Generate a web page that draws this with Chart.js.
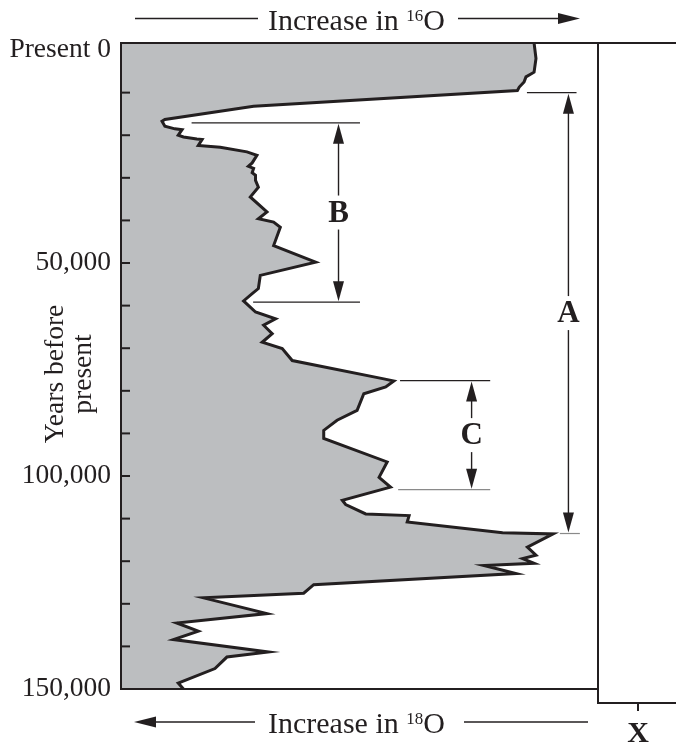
<!DOCTYPE html>
<html>
<head>
<meta charset="utf-8">
<script src="https://cdn.jsdelivr.net/npm/chart.js@4.4.1/dist/chart.umd.min.js"></script>
<style>
  html, body { margin: 0; padding: 0; background: #fff; }
  #wrap { width: 676px; height: 747px; }
</style>
</head>
<body>
<div id="wrap"><canvas id="chart" width="676" height="747"></canvas></div>
<script>
// Oxygen isotope record, 0 - 150,000 years before present.
// x is a relative isotope index: 0 = left frame (more 18O), 100 = right frame (more 16O).

const YEARS = [
  -1650, 2000, 5200, 6300, 7500, 8700, 9500, 13200, 16300, 16700,
  17900, 18500, 18700, 20000, 20400, 20900, 21000, 22400, 22800, 23900,
  24700, 26500, 27300, 27800, 28800, 29400, 30600, 32200, 34500, 38000,
  39600, 40400, 41600, 45900, 49800, 52900, 56000, 57200, 58900, 61500,
  63100, 64600, 66600, 68600, 70100, 72900, 77200, 77700, 79100, 80700,
  84600, 86900, 89300, 91200, 96700, 100300, 102600, 105700, 106700, 108900,
  109300, 110800, 113300, 113600, 116700, 118600, 119400, 120500, 121000, 122900,
  125500, 127500, 128600, 132300, 134500, 136400, 138400, 141300, 142500, 145200,
  148600, 150000
];
const O16_INDEX = [
  86.6, 87.0, 86.6, 84.9, 84.5, 83.5, 83.1, 27.8, 9.2, 8.6,
  9.2, 11.3, 12.8, 12.0, 13.1, 15.9, 17.0, 16.2, 20.8, 26.4,
  28.5, 27.5, 26.7, 27.8, 27.5, 28.2, 28.2, 28.8, 27.1, 30.6,
  28.8, 32.0, 33.4, 32.0, 40.8, 29.2, 28.8, 27.5, 25.7, 28.2,
  32.4, 29.9, 31.7, 29.6, 33.8, 35.9, 55.1, 57.2, 55.5, 50.9,
  49.5, 45.3, 42.5, 42.5, 55.8, 54.1, 56.5, 46.4, 47.1, 51.3,
  60.4, 60.0, 80.0, 90.6, 85.2, 87.0, 84.2, 86.6, 76.1, 82.8,
  40.4, 38.3, 17.3, 30.6, 11.7, 16.2, 11.0, 30.9, 22.2, 19.7,
  12.0, 13.1
];

// y axis
const Y_MIN = -1650;   // the drawn frame starts a little above 0
const Y_MAX = 150000;
const Y_TICKS = [0, 10000, 20000, 30000, 40000, 50000, 60000, 70000,
  80000, 90000, 100000, 110000, 120000, 130000, 140000, 150000];
const Y_TICK_LABELS = ['Present 0', '', '', '', '', '50,000', '', '', '', '',
  '100,000', '', '', '', '', '150,000'];

// marked intervals (years)
const BRACKET_LABELS = ['A', 'B', 'C'];
const BRACKET_FROM = [10000, 17100, 77600];
const BRACKET_TO = [113500, 59200, 103200];

const INK = '#231f20';
const FILL = '#bcbec0';
const SERIF = '"Liberation Serif", "Times New Roman", serif';

// where each bracket sits, in isotope-index units
const BRACKET_LAYOUT = {
  A: { stem: 93.8, top: [85.1, 95.5], bottom: [92.0, 96.2], bottomColor: '#8a8a8a' },
  B: { stem: 45.6, top: [14.8, 50.1], bottom: [27.7, 50.1], bottomColor: INK },
  C: { stem: 73.5, top: [58.5, 77.4], bottom: [58.1, 77.4], bottomColor: '#8a8a8a' },
};

function line(ctx, x0, y0, x1, y1) {
  ctx.beginPath(); ctx.moveTo(x0, y0); ctx.lineTo(x1, y1); ctx.stroke();
}
function vHead(ctx, x, tip, dir) { // dir -1 points up, +1 points down
  ctx.beginPath();
  ctx.moveTo(x, tip);
  ctx.lineTo(x - 5.5, tip - dir * 20);
  ctx.lineTo(x + 5.5, tip - dir * 20);
  ctx.closePath(); ctx.fill();
}
function hHead(ctx, tip, y, dir) { // dir +1 points right, -1 left
  ctx.beginPath();
  ctx.moveTo(tip, y);
  ctx.lineTo(tip - dir * 22, y - 5.5);
  ctx.lineTo(tip - dir * 22, y + 5.5);
  ctx.closePath(); ctx.fill();
}
function isotopeText(ctx, x, baseline, mass) {
  ctx.textAlign = 'left';
  ctx.textBaseline = 'alphabetic';
  ctx.font = '30px ' + SERIF;
  ctx.fillText('Increase in ', x, baseline);
  let cx = x + ctx.measureText('Increase in ').width;
  ctx.font = '17px ' + SERIF;
  ctx.fillText(mass, cx, baseline - 9.5);
  cx += ctx.measureText(mass).width;
  ctx.font = '30px ' + SERIF;
  ctx.fillText('O', cx, baseline);
}

const framePlugin = {
  id: 'frame',
  afterDraw(chart) {
    const ctx = chart.ctx;
    const { left, right, top, bottom } = chart.chartArea;
    const xs = chart.scales.x, ys = chart.scales.y;
    const W = chart.width;
    ctx.save();
    ctx.strokeStyle = INK;
    ctx.fillStyle = INK;

    // frame
    ctx.lineWidth = 2;
    line(ctx, left, top, W, top);
    line(ctx, left, top - 1, left, bottom + 1);
    line(ctx, left - 1, bottom, right, bottom);
    line(ctx, right, top, right, bottom + 14);
    line(ctx, right - 1, bottom + 14, W, bottom + 14);
    line(ctx, 638, bottom + 14, 638, bottom + 22);

    // inward tick marks
    Y_TICKS.forEach(v => {
      if (v <= 0 || v >= Y_MAX) return;
      const y = ys.getPixelForValue(v);
      line(ctx, left, y, left + 9, y);
    });

    // brackets A, B, C
    BRACKET_LABELS.forEach((lab, i) => {
      const L = BRACKET_LAYOUT[lab];
      const x = xs.getPixelForValue(L.stem);
      const y0 = ys.getPixelForValue(BRACKET_FROM[i]);
      const y1 = ys.getPixelForValue(BRACKET_TO[i]);
      const mid = (y0 + y1) / 2;
      ctx.lineWidth = 1.2;
      ctx.strokeStyle = INK;
      line(ctx, xs.getPixelForValue(L.top[0]), y0, xs.getPixelForValue(L.top[1]), y0);
      ctx.strokeStyle = L.bottomColor;
      line(ctx, xs.getPixelForValue(L.bottom[0]), y1, xs.getPixelForValue(L.bottom[1]), y1);
      ctx.strokeStyle = INK;
      ctx.lineWidth = 1.4;
      line(ctx, x, y0 + 10, x, mid - 17);
      line(ctx, x, mid + 17, x, y1 - 10);
      vHead(ctx, x, y0 + 1, -1);
      vHead(ctx, x, y1 - 1, 1);
      ctx.font = 'bold 31px ' + SERIF;
      ctx.textAlign = 'center';
      ctx.textBaseline = 'middle';
      ctx.fillText(lab, x, mid + 1);
    });

    // isotope direction labels
    ctx.lineWidth = 1.5;
    line(ctx, 135, 18.5, 258, 18.5);
    line(ctx, 458, 18.5, 562, 18.5);
    hHead(ctx, 580, 18.5, 1);
    isotopeText(ctx, 268, 30, '16');

    line(ctx, 150, 722, 255, 722);
    line(ctx, 464, 722, 588, 722);
    hHead(ctx, 134, 722, -1);
    isotopeText(ctx, 268, 733, '18');

    // X under the bracket
    ctx.font = 'bold 30px ' + SERIF;
    ctx.textAlign = 'center';
    ctx.textBaseline = 'alphabetic';
    ctx.fillText('X', 638, 742);

    // y axis title, sits between the tick labels
    ctx.font = '27.5px ' + SERIF;
    ctx.textAlign = 'center';
    ctx.textBaseline = 'alphabetic';
    [['Years before', 62.5], ['present', 91]].forEach(([t, bx]) => {
      ctx.save();
      ctx.translate(bx, 374);
      ctx.rotate(-Math.PI / 2);
      ctx.fillText(t, 0, 0);
      ctx.restore();
    });
    ctx.restore();
  }
};

new Chart(document.getElementById('chart').getContext('2d'), {
  type: 'line',
  data: {
    datasets: [{
      data: YEARS.map((y, i) => ({ x: O16_INDEX[i], y })),
      borderColor: INK,
      borderWidth: 3,
      borderJoinStyle: 'miter',
      backgroundColor: FILL,
      fill: { value: 0 },
      pointRadius: 0,
      tension: 0,
    }],
  },
  options: {
    indexAxis: 'y',
    responsive: false,
    animation: false,
    devicePixelRatio: 1,
    layout: { padding: { left: 0, right: 78, top: 43, bottom: 58 } },
    plugins: { legend: { display: false }, tooltip: { enabled: false } },
    scales: {
      x: { type: 'linear', display: false, min: 0, max: 100 },
      y: {
        type: 'linear',
        reverse: true,
        min: Y_MIN,
        max: Y_MAX,
        afterBuildTicks: s => { s.ticks = Y_TICKS.map(v => ({ value: v })); },
        afterFit: s => { s.width = 121; },
        grid: { display: false, drawTicks: false },
        border: { display: false },
        ticks: {
          autoSkip: false,
          padding: 10,
          color: INK,
          font: { family: SERIF, size: 27.5 },
          callback: (v, i) => Y_TICK_LABELS[i],
        },
      },
    },
  },
  plugins: [framePlugin],
});
</script>
</body>
</html>
